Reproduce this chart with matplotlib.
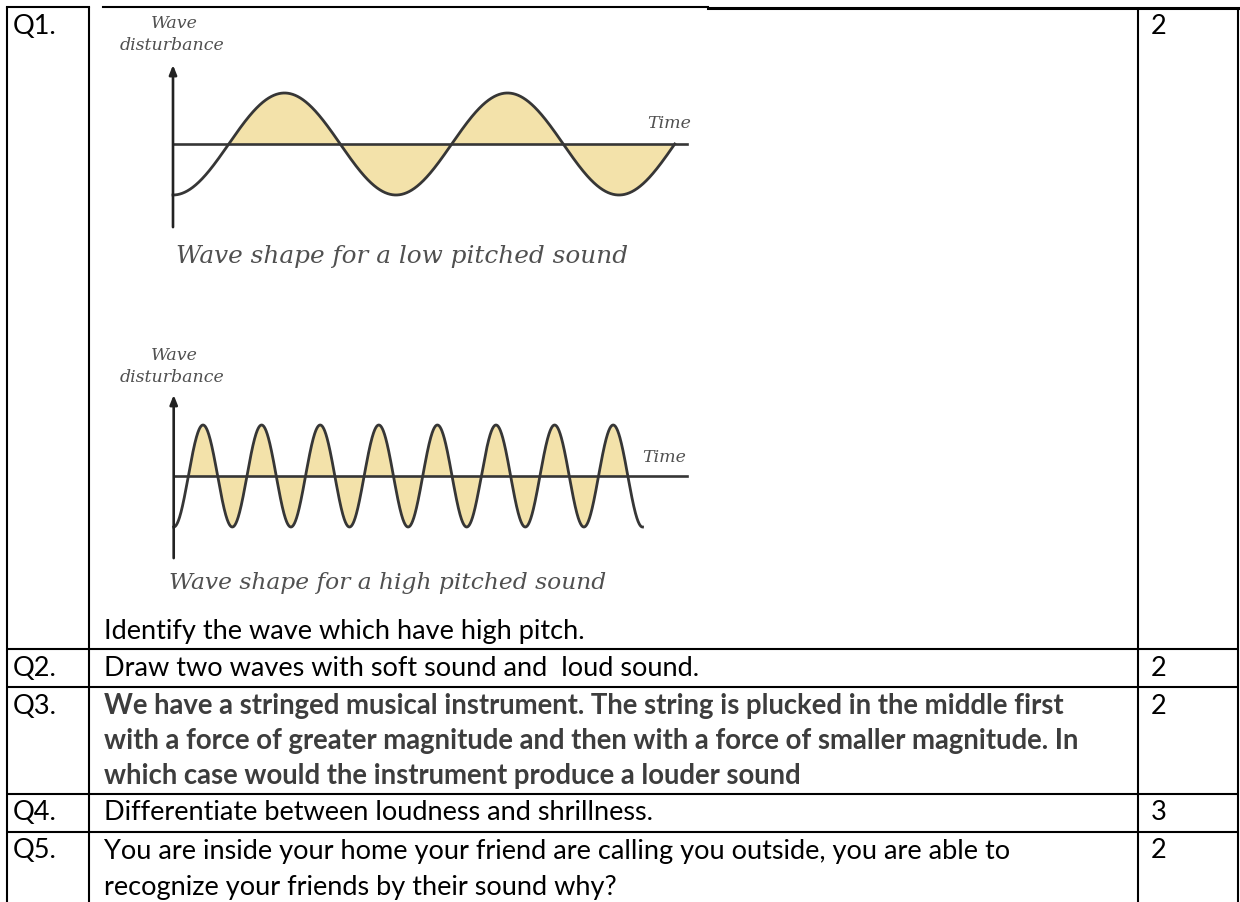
import numpy as np
import matplotlib.pyplot as plt

W, H = 1240, 902

# table content
questions = ["Q1.", "Q2.", "Q3.", "Q4.", "Q5."]
marks = ["2", "2", "2", "3", "2"]
q1_text = "Identify the wave which have high pitch."
q2_text = "Draw two waves with soft sound and  loud sound."
q3_lines = ["We have a stringed musical instrument. The string is plucked in the middle first",
            "with a force of greater magnitude and then with a force of smaller magnitude. In",
            "which case would the instrument produce a louder sound"]
q4_text = "Differentiate between loudness and shrillness."
q5_lines = ["You are inside your home your friend are calling you outside, you are able to",
            "recognize your friends by their sound why?"]

# wave figures
wave_captions = ["Wave shape for a low pitched sound", "Wave shape for a high pitched sound"]
wave_cycles = [2.25, 8.0]
wave_fill_end = [2.25, 7.75]

# layout (pixels)
col_x = [7, 89, 1138, 1238]
row_tops = [7, 649, 687, 794, 832]
line_gap = 35
text_font = ["Lato", "DejaVu Sans"]
fs = 19.5
fs_bold = 19.8
serif = "DejaVu Serif"
wave_col = "#363636"
fill_col = "#f3e2aa"
label_col = "#505050"

fig = plt.figure(figsize=(W / 100, H / 100), dpi=100)
ax = fig.add_axes([0, 0, 1, 1])
ax.set_xlim(0, W)
ax.set_ylim(H, 0)
ax.axis("off")

# table lines
lw = 1.5
for x in col_x:
  ax.plot([x, x], [row_tops[0], H], color="black", lw=lw, solid_capstyle="butt")
for y in row_tops[1:]:
  ax.plot([col_x[0], col_x[-1]], [y, y], color="black", lw=lw, solid_capstyle="butt")
ax.plot([col_x[0], col_x[1]], [7, 7], color="black", lw=lw)
ax.plot([103, 708], [7, 7], color="black", lw=lw)
ax.plot([708, col_x[-1]], [7.5, 7.5], color="black", lw=2.2)


def cell_text(x, y, s, size=fs, **kw):
  ax.text(x, y, s, fontsize=size, family=text_font, va="center", ha="left", **kw)


# question labels and marks
for i, q in enumerate(questions):
  cell_text(13, row_tops[i] + 19, q)
  cell_text(1151, row_tops[i] + 19, marks[i])

cell_text(104, 632, q1_text)
cell_text(104, row_tops[1] + 19, q2_text)
for k, s in enumerate(q3_lines):
  cell_text(104, row_tops[2] + 19 + k * line_gap, s, size=fs_bold, weight="bold", color="#3d3d3d")
cell_text(104, row_tops[3] + 19, q4_text)
for k, s in enumerate(q5_lines):
  cell_text(104, row_tops[4] + 19 + k * (line_gap + 2), s)


def wave_axes(x0, y0, period, amp, left, right, top, bottom):
  a = fig.add_axes([left / W, 1 - bottom / H, (right - left) / W, (bottom - top) / H])
  a.set_xlim((left - x0) / period, (right - x0) / period)
  a.set_ylim((y0 - bottom) / amp, (y0 - top) / amp)
  a.axis("off")
  return a


def draw_wave(a, cycles, fill_end, x_end, y_lo, y_hi):
  t = np.linspace(0, cycles, 2000)
  y = -np.cos(2 * np.pi * t)
  a.fill_between(t, y, 0, where=(t >= 0.25) & (t <= fill_end), color=fill_col, lw=0)
  a.plot([0, x_end], [0, 0], color=wave_col, lw=1.9)
  a.plot(t, y, color=wave_col, lw=2.0)
  a.annotate("", xy=(0, y_hi), xytext=(0, y_lo),
             arrowprops=dict(arrowstyle="-|>,head_width=0.22,head_length=0.55",
                             color="#222222", lw=1.9, shrinkA=0, shrinkB=0))


# low pitched wave
w1 = wave_axes(173, 144, 223, 51, 140, 720, 55, 240)
draw_wave(w1, wave_cycles[0], wave_fill_end[0], 2.305, -1.63, 1.55)
# high pitched wave
w2 = wave_axes(173.7, 476, 58.6, 51, 140, 720, 385, 570)
draw_wave(w2, wave_cycles[1], wave_fill_end[1], 8.76, -1.61, 1.59)

for (yw, yd, yt, xt, xc, yc, cs, cap) in [(23, 45, 123, 647, 402, 257, 17.8, wave_captions[0]),
                                          (356, 378, 457, 642, 388, 583, 16.8, wave_captions[1])]:
  ax.text(174, yw, "Wave", family=serif, style="italic", fontsize=12.5, color=label_col,
          ha="center", va="center")
  ax.text(172, yd, "disturbance", family=serif, style="italic", fontsize=12.5, color=label_col,
          ha="center", va="center")
  ax.text(xt, yt, "Time", family=serif, style="italic", fontsize=12.5, color=label_col,
          ha="left", va="center")
  ax.text(xc, yc, cap, family=serif, style="italic", fontsize=cs, color=label_col,
          ha="center", va="center")

fig.savefig("out.png", dpi=100)
